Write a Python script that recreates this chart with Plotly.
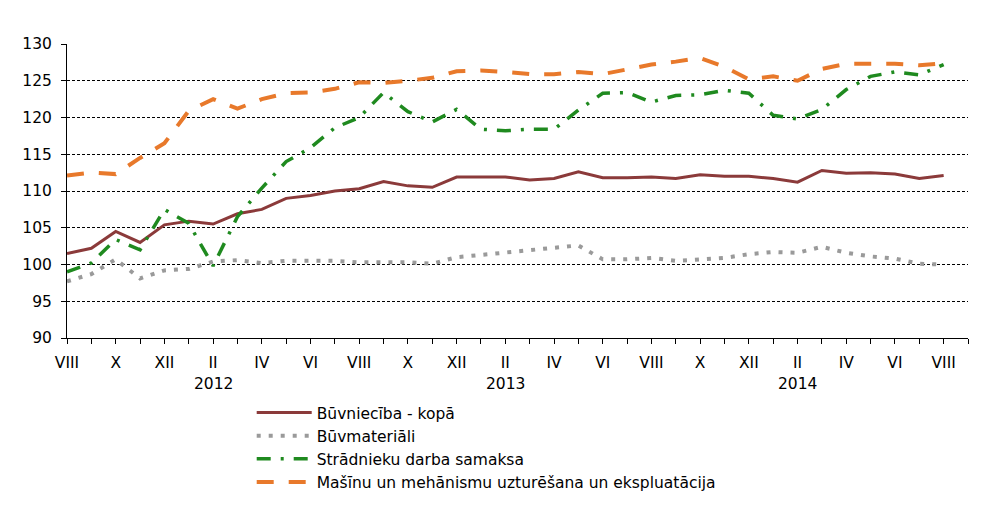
import plotly.graph_objects as go

months = ["VIII", "IX", "X", "XI", "XII", "I", "II", "III", "IV", "V", "VI", "VII",
          "VIII", "IX", "X", "XI", "XII", "I", "II", "III", "IV", "V", "VI", "VII",
          "VIII", "IX", "X", "XI", "XII", "I", "II", "III", "IV", "V", "VI", "VII", "VIII"]
years = ["2012", "2013", "2014"]
year_pos = [6, 18, 30]

buvnieciba = [101.5, 102.2, 104.5, 103.0, 105.4, 105.9, 105.5, 106.9, 107.5, 109.0, 109.4, 110.0,
              110.3, 111.3, 110.7, 110.5, 111.9, 111.9, 111.9, 111.5, 111.7, 112.6, 111.8, 111.8,
              111.9, 111.7, 112.2, 112.0, 112.0, 111.7, 111.2, 112.8, 112.4, 112.5, 112.3, 111.7, 112.1]
buvmateriali = [97.7, 98.7, 100.7, 98.1, 99.2, 99.4, 100.4, 100.6, 100.2, 100.5, 100.5, 100.5,
                100.3, 100.3, 100.3, 100.1, 101.0, 101.3, 101.6, 101.9, 102.2, 102.6, 100.7, 100.7,
                100.9, 100.5, 100.7, 100.9, 101.4, 101.7, 101.6, 102.4, 101.6, 101.1, 100.8, 100.1, 100.0]
stradnieku = [99.0, 100.2, 103.4, 102.0, 107.5, 105.6, 99.8, 106.5, 110.4, 114.0, 115.9, 118.6,
              120.0, 123.4, 120.8, 119.4, 121.1, 118.4, 118.2, 118.4, 118.4, 121.0, 123.3, 123.4,
              122.1, 123.0, 123.1, 123.7, 123.3, 120.3, 119.8, 121.1, 123.8, 125.6, 126.2, 125.8, 127.2]
masinu = [112.1, 112.5, 112.3, 114.5, 116.5, 120.9, 122.5, 121.2, 122.5, 123.3, 123.4, 123.9,
          124.8, 124.7, 125.0, 125.4, 126.3, 126.4, 126.2, 125.9, 125.9, 126.2, 125.9, 126.5,
          127.2, 127.6, 128.1, 126.9, 125.2, 125.6, 125.0, 126.6, 127.3, 127.3, 127.3, 127.1, 127.4]

names = ["Būvniecība - kopā", "Būvmateriāli", "Strādnieku darba samaksa",
         "Mašīnu un mehānismu uzturēšana un ekspluatācija"]

x = list(range(len(months)))
FONT = "DejaVu Sans"

fig = go.Figure()
fig.add_trace(go.Scatter(x=x, y=buvnieciba, mode="lines", name=names[0],
                         line=dict(color="#8B3A3A", width=3)))
fig.add_trace(go.Scatter(x=x, y=buvmateriali, mode="lines", name=names[1],
                         line=dict(color="#9A9A9A", width=4, dash="4px,8px")))
fig.add_trace(go.Scatter(x=x, y=stradnieku, mode="lines", name=names[2],
                         line=dict(color="#1F8A1F", width=3.5, dash="14px,10px,3px,10px")))
fig.add_trace(go.Scatter(x=x, y=masinu, mode="lines", name=names[3],
                         line=dict(color="#E8792B", width=4, dash="17px,15px")))

for yr, p in zip(years, year_pos):
    fig.add_annotation(x=p, y=0, xref="x", yref="paper", text=yr, showarrow=False,
                       yanchor="middle", yshift=-46, font=dict(family=FONT, size=15.5, color="#000"))

fig.update_layout(
    width=1000, height=505,
    margin=dict(l=67, r=32, t=44, b=167, autoexpand=False),
    paper_bgcolor="white", plot_bgcolor="white",
    font=dict(family=FONT, size=15.5, color="#000"),
    showlegend=True,
    legend=dict(x=0.205, y=-0.197, xanchor="left", yanchor="top",
                font=dict(family=FONT, size=15.5, color="#000"),
                itemwidth=55, bgcolor="rgba(0,0,0,0)", tracegroupgap=0),
)
fig.update_xaxes(
    range=[0, 37], tickmode="array", tickvals=x[::2], ticktext=months[::2],
    showgrid=False, zeroline=False, showline=True, linecolor="#000", linewidth=1,
    ticks="outside", ticklen=5, tickcolor="#000", ticklabelstandoff=5, automargin=False,
    minor=dict(dtick=1, ticks="outside", ticklen=5, tickcolor="#000", showgrid=False),
    tickfont=dict(family=FONT, size=15.5),
)
fig.update_yaxes(
    range=[90, 130], dtick=5, showgrid=True, gridcolor="#000", gridwidth=1,
    griddash="3px,2px", zeroline=False, showline=True, linecolor="#000", linewidth=1,
    ticks="outside", ticklen=5, tickcolor="#000", ticklabelstandoff=6, automargin=False,
    tickfont=dict(family=FONT, size=15.5),
)

fig.write_html("out.html")
